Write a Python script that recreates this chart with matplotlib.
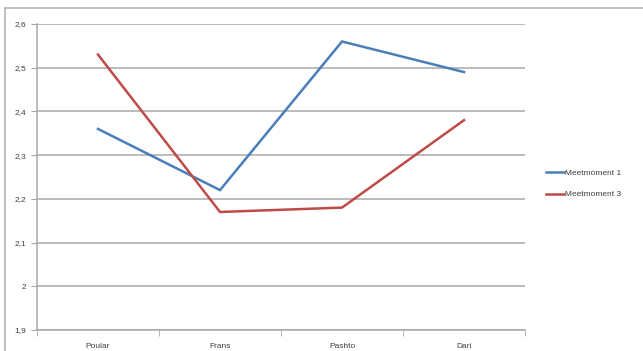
import matplotlib
matplotlib.use("Agg")
import matplotlib.pyplot as plt
from matplotlib.patches import Rectangle

categories = ["Poular", "Frans", "Pashto", "Dari"]
meetmoment_1 = [2.36, 2.22, 2.56, 2.49]
meetmoment_3 = [2.53, 2.17, 2.18, 2.38]
y_ticks = [1.9, 2.0, 2.1, 2.2, 2.3, 2.4, 2.5, 2.6]
y_tick_labels = ["1,9", "2", "2,1", "2,2", "2,3", "2,4", "2,5", "2,6"]

plt.rcParams["font.family"] = ["Liberation Sans", "DejaVu Sans"]

fig = plt.figure(figsize=(6.43, 3.51), dpi=100)
fig.patch.set_facecolor("white")

# outer chart frame
fig.patches.append(Rectangle((5 / 643, -0.01), 1.0, 1 - 8 / 351 + 0.01,
                             transform=fig.transFigure, fill=False,
                             edgecolor="#b4b4b4", linewidth=1.2))

ax = fig.add_axes([37 / 643, 1 - 330 / 351, (525 - 37) / 643, (330 - 24) / 351])
x = list(range(len(categories)))

ax.plot(x, meetmoment_1, color="#4a7ebb", linewidth=1.8, label="Meetmoment 1",
        solid_joinstyle="miter")
ax.plot(x, meetmoment_3, color="#be4b48", linewidth=1.8, label="Meetmoment 3",
        solid_joinstyle="miter")

ax.set_xlim(-0.5, len(categories) - 0.5)
ax.set_ylim(1.9, 2.6)
ax.set_yticks(y_ticks)
ax.set_yticklabels(y_tick_labels)
ax.set_xticks(x)
ax.set_xticklabels(categories)
ax.set_xticks([i + 0.5 for i in range(-1, len(categories))], minor=True)

ax.grid(axis="y", color="#a8a8a8", linewidth=1.1)
ax.set_axisbelow(True)
for side in ("top", "right"):
    ax.spines[side].set_visible(False)
for side in ("left", "bottom"):
    ax.spines[side].set_color("#a8a8a8")
    ax.spines[side].set_linewidth(1.1)

ax.tick_params(axis="x", which="major", length=0, labelsize=6, colors="#404040", pad=9)
ax.tick_params(axis="x", which="minor", length=4, color="#a8a8a8")
ax.tick_params(axis="y", length=4, color="#a8a8a8", labelsize=6, labelcolor="#404040", pad=4)

leg = ax.legend(loc="center left", bbox_to_anchor=(538 / 643, 1 - 184 / 351),
                bbox_transform=fig.transFigure, frameon=False, fontsize=6,
                handlelength=2.2, handletextpad=0.1, labelspacing=1.6,
                labelcolor="#404040")

fig.savefig("out.png", dpi=100, facecolor="white")
